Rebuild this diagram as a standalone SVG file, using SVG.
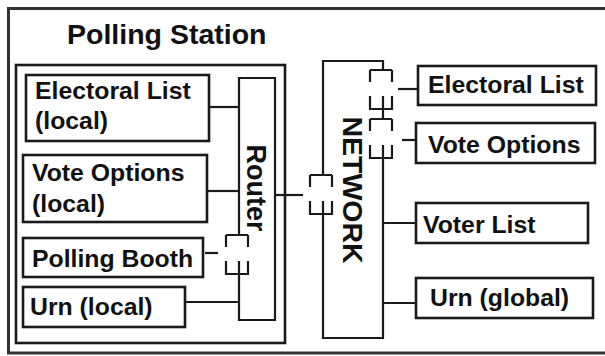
<svg xmlns="http://www.w3.org/2000/svg" width="605" height="356" viewBox="0 0 605 356">
<style>
.box{fill:#fff;stroke:#1a1a1a;stroke-width:2.6}
.ln{fill:none;stroke:#1a1a1a;stroke-width:2.2}
.t{font-family:"Liberation Sans",Arial,sans-serif;font-weight:bold;font-size:24.8px;fill:#111}
.title{font-size:28.5px}
</style>
<defs>
<g id="conn" class="ln">
<path d="M-13,0 H9 M-13,0 V12 M9,0 V12"/>
<path d="M-13,26 V39 H9 V26 M0,26 V39"/>
</g>
</defs>
<rect width="605" height="356" fill="#fff"/>
<g id="station">
<path d="M620,8.5 H8.5 V353 H620" fill="none" stroke="#333" stroke-width="3"/>
<text class="t title" x="67" y="44">Polling Station</text>
<rect x="16" y="65" width="269" height="278" fill="none" stroke="#1a1a1a" stroke-width="2.6"/>
</g>
<g id="electoral-local"><rect class="box" x="26" y="75" width="183" height="66"/><text class="t" x="35" y="99">Electoral List</text><text class="t" x="35" y="129">(local)</text></g>
<g id="vote-local"><rect class="box" x="23" y="155" width="184" height="67"/><text class="t" x="32" y="181">Vote Options</text><text class="t" x="32" y="212">(local)</text></g>
<g id="booth"><rect class="box" x="23" y="238" width="180" height="39"/><text class="t" x="32" y="267">Polling Booth</text></g>
<g id="urn-local"><rect class="box" x="23" y="287" width="162" height="40"/><text class="t" x="30" y="315">Urn (local)</text></g>
<g id="router">
<path class="ln" d="M239,235 V78 H275 V320 H239 V274" stroke-width="2.6"/>
<text class="t" transform="translate(247,188) rotate(90)" text-anchor="middle" style="font-size:27px">Router</text>
</g>
<g id="network">
<path class="ln" d="M323,175 V61 H383 V70" stroke-width="2.6"/>
<path class="ln" d="M383,109 V119" stroke-width="2.6"/>
<path class="ln" d="M383,158 V338 H323 V214" stroke-width="2.6"/>
<text class="t" transform="translate(343,190) rotate(90)" text-anchor="middle" style="font-size:28.5px">NETWORK</text>
</g>
<g id="electoral-global"><rect class="box" x="418" y="66" width="178" height="39"/><text class="t" x="428" y="93">Electoral List</text></g>
<g id="vote-global"><rect class="box" x="416" y="123" width="179" height="40"/><text class="t" x="428" y="153">Vote Options</text></g>
<g id="voter-list"><rect class="box" x="416" y="203" width="172" height="40"/><text class="t" x="423" y="233">Voter List</text></g>
<g id="urn-global"><rect class="box" x="416" y="278" width="177" height="40"/><text class="t" x="430" y="306">Urn (global)</text></g>
<g id="connectors" class="ln">
<path d="M209,107 H239"/>
<path d="M207,191 H239"/>
<path d="M185,302 H239"/>
<path d="M205,253 H218"/>
<path d="M275,195 H303"/>
<path d="M398,89 H418"/>
<path d="M402,140 H416"/>
<path d="M383,223 H416"/>
<path d="M383,303 H416"/>
<use href="#conn" x="239" y="235"/>
<use href="#conn" x="323" y="175"/>
<use href="#conn" x="383" y="70"/>
<use href="#conn" x="383" y="119"/>
</g>
</svg>
